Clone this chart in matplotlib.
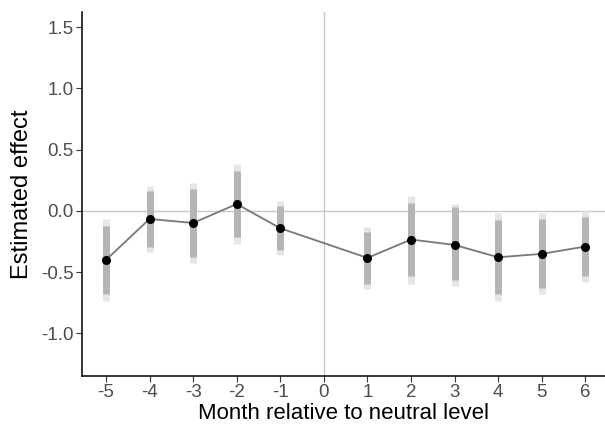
import matplotlib.pyplot as plt

plt.rcParams['font.family'] = ['Liberation Sans', 'DejaVu Sans']

# month relative to neutral level
months = [-5, -4, -3, -2, -1, 1, 2, 3, 4, 5, 6]
estimate = [-0.40, -0.065, -0.098, 0.057, -0.141, -0.383, -0.233, -0.277, -0.378, -0.35, -0.29]
# inner (darker) interval
inner_low = [-0.68, -0.29, -0.375, -0.215, -0.32, -0.597, -0.534, -0.56, -0.676, -0.627, -0.53]
inner_high = [-0.12, 0.16, 0.18, 0.33, 0.043, -0.168, 0.063, 0.03, -0.073, -0.068, -0.046]
# outer (lighter) interval
outer_low = [-0.736, -0.334, -0.427, -0.266, -0.358, -0.64, -0.594, -0.614, -0.733, -0.68, -0.576]
outer_high = [-0.065, 0.206, 0.228, 0.38, 0.081, -0.13, 0.122, 0.055, -0.02, -0.02, 0.0]

x_ticks = list(range(-5, 7))
y_ticks = [-1.0, -0.5, 0.0, 0.5, 1.0, 1.5]

fig = plt.figure(figsize=(6.05, 4.3), dpi=100)
ax = fig.add_axes([0.1355, 0.1256, 0.8645, 0.8464])

# reference lines
ax.axhline(0, color='#c8c8c8', linewidth=1, zorder=1)
ax.axvline(0, color='#c8c8c8', linewidth=1, zorder=1)

# confidence intervals
ax.vlines(months, outer_low, outer_high, color='#e5e5e5', linewidth=5, zorder=2)
ax.vlines(months, inner_low, inner_high, color='#b5b5b5', linewidth=5, zorder=3)

# estimates
ax.plot(months, estimate, color='#777777', linewidth=1.3, zorder=4)
ax.scatter(months, estimate, color='black', s=30, zorder=5)

ax.set_xlim(-5.55, 6.45)
ax.set_ylim(-1.347, 1.624)
ax.set_xticks(x_ticks)
ax.set_xticklabels([str(v) for v in x_ticks])
ax.set_yticks(y_ticks)
ax.set_yticklabels(['%.1f' % v for v in y_ticks])

for side in ['top', 'right']:
    ax.spines[side].set_visible(False)
for side in ['left', 'bottom']:
    ax.spines[side].set_linewidth(1.1)
    ax.spines[side].set_color('black')

ax.tick_params(axis='both', colors='#333333', labelcolor='#4d4d4d',
               labelsize=13.5, length=4, width=0.8, pad=2)

ax.set_xlabel('Month relative to neutral level', fontsize=16, labelpad=1)
ax.set_ylabel('Estimated effect', fontsize=17, labelpad=6)

fig.savefig('out.png', dpi=100)
